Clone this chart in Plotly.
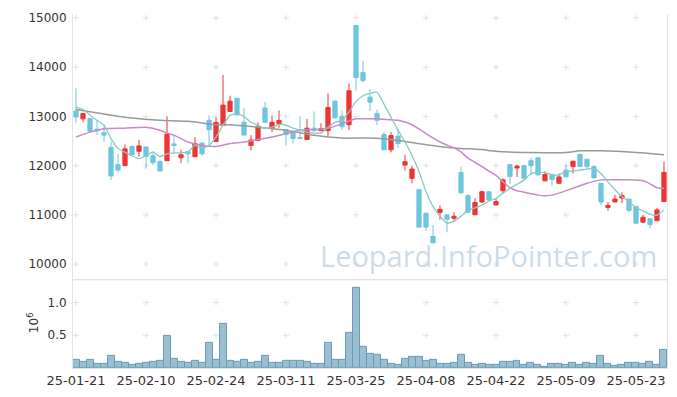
import plotly.graph_objects as go

dates = ["25-01-21","25-01-22","25-01-23","25-01-24","25-01-31","25-02-03","25-02-04","25-02-05","25-02-06","25-02-07",
         "25-02-10","25-02-11","25-02-12","25-02-13","25-02-14","25-02-17","25-02-18","25-02-19","25-02-20","25-02-21",
         "25-02-24","25-02-25","25-02-26","25-02-27","25-02-28","25-03-04","25-03-05","25-03-06","25-03-07","25-03-10",
         "25-03-11","25-03-12","25-03-13","25-03-14","25-03-17","25-03-18","25-03-19","25-03-20","25-03-21","25-03-24",
         "25-03-25","25-03-26","25-03-27","25-03-28","25-03-31","25-04-01","25-04-02","25-04-03","25-04-04","25-04-07",
         "25-04-08","25-04-09","25-04-10","25-04-11","25-04-14","25-04-15","25-04-16","25-04-17","25-04-18","25-04-21",
         "25-04-22","25-04-23","25-04-24","25-04-25","25-04-28","25-04-29","25-04-30","25-05-02","25-05-07","25-05-08",
         "25-05-09","25-05-12","25-05-13","25-05-14","25-05-15","25-05-16","25-05-19","25-05-20","25-05-21","25-05-22",
         "25-05-23","25-05-26","25-05-27","25-05-28","25-05-29"]

open_ = [13110,12950,12960,12740,12670,12370,12020,12000,12390,12290,
         12380,12200,12080,12100,12440,12160,12280,12180,12460,12920,
         12490,12820,13100,13370,12880,12410,12510,13170,12760,12850,
         12730,12670,12570,12530,12760,12710,12710,13310,13000,12830,
         14850,13890,13390,13060,12630,12320,12600,12010,11740,11510,
         11030,10560,11050,11000,10930,11860,11390,11000,11260,11470,
         11200,11490,12020,11950,12000,12100,12160,11690,11820,11640,
         11910,11980,12230,12130,11980,11640,11150,11260,11340,11320,
         11170,10850,10920,10880,11270]
high = [13570,13070,12960,12910,12830,12490,12240,12430,12410,12520,
        12380,12290,12110,13000,12600,12320,12290,12580,12460,13020,
        12980,13840,13420,13370,13170,12620,12880,13290,13020,13120,
        12740,12720,13000,12950,13100,12860,13470,13330,13120,13670,
        14850,14130,13550,13140,12680,12680,12730,12220,12000,11510,
        11030,10790,11190,11000,11050,11980,11420,11340,11490,11470,
        11340,11740,12020,12020,12000,12160,12160,11880,11820,11840,
        12020,12090,12230,12130,12010,11640,11260,11410,11460,11320,
        11170,11000,10920,11140,12080]
low = [12870,12880,12670,12620,12480,11710,11860,12000,12200,12180,
       11940,12010,11880,12100,12240,12050,12050,12180,12200,12410,
       12490,12820,13100,13020,12620,12310,12510,12880,12680,12770,
       12410,12450,12550,12530,12680,12710,12600,12970,12720,12720,
       13520,13690,13110,12820,12320,12270,12360,11900,11640,10750,
       10670,10430,10900,10650,10870,11420,11050,11000,11240,11270,
       11200,11430,11620,11770,11740,11810,11810,11690,11590,11640,
       11770,11840,11980,11940,11750,11200,11080,11260,11240,11050,
       10830,10830,10720,10880,11260]
close = [12990,13060,12700,12710,12620,11790,11910,12340,12220,12400,
         12190,12060,11890,12640,12410,12220,12240,12450,12240,12730,
         12880,13230,13310,13030,12620,12520,12800,12880,12880,12920,
         12630,12550,12550,12760,12720,12750,13180,12970,12790,13520,
         13790,13730,13290,12920,12320,12610,12450,12080,11930,10750,
         10750,10430,11110,10910,10970,11450,11050,11250,11470,11300,
         11270,11710,11780,11990,11740,12000,11810,11820,11720,11770,
         11770,12090,11980,11980,11750,11260,11190,11320,11390,11090,
         10830,10950,10800,11100,11860]

volume = [126000,95000,126000,65000,65000,186000,95000,80000,45000,65000,
          80000,95000,110000,497000,140000,95000,80000,110000,80000,380000,
          126000,668000,110000,95000,126000,80000,95000,186000,80000,80000,
          110000,110000,110000,95000,65000,65000,380000,126000,126000,530000,
          1220000,330000,210000,196000,126000,60000,45000,136000,166000,166000,
          110000,126000,60000,60000,75000,196000,75000,45000,60000,45000,
          45000,90000,90000,105000,45000,75000,45000,15000,60000,60000,
          45000,75000,45000,75000,60000,180000,60000,30000,45000,75000,
          75000,60000,90000,45000,270000]

ma_short = [13190,13140,13030,12920,12820,12550,12350,12270,12200,12140,
            12200,12280,12180,12240,12260,12260,12280,12410,12350,12410,
            12580,12820,13020,13050,13000,12880,12820,12750,12780,12840,
            12820,12760,12720,12680,12660,12660,12780,12880,12920,13090,
            13300,13420,13470,13490,13250,12980,12720,12480,12210,11880,
            11470,11170,10970,10830,10870,10970,11090,11140,11200,11280,
            11330,11440,11540,11620,11710,11840,11860,11860,11810,11810,
            11880,11890,11910,11930,11940,11840,11670,11510,11370,11270,
            11140,11080,11010,10990,11100]

ma_mid_idx = [0,2,4,7,10,12,13,14,16,18,20,22,24,26,28,30,32,34,36,38,40,42,44,46,48,50,52,54,55,56,
              58,59,60,61,62,63,64,65,66,67,68,69,71,73,75,77,79,81,82,83,84]
ma_mid = [12580,12680,12750,12760,12780,12720,12660,12620,12480,12410,12390,12450,12480,12530,12580,
          12650,12720,12730,12760,12850,12950,12950,12940,12920,12830,12650,12480,12360,12280,12150,
          11980,11890,11800,11670,11550,11490,11460,11430,11400,11385,11400,11440,11540,11640,11710,
          11710,11710,11690,11630,11550,11540]

ma_long_idx = [0,4,8,12,16,20,22,26,30,34,38,42,46,50,54,58,60,65,70,72,75,80,84]
ma_long = [13140,13050,12965,12920,12900,12830,12830,12780,12720,12615,12560,12560,12510,12425,12360,
           12325,12290,12265,12265,12300,12300,12265,12220]

price_ticks = [10000, 11000, 12000, 13000, 14000, 15000]
vol_ticks = [0.5, 1.0]
x_tick_idx = list(range(0, 85, 10))

RED = "#ee3434"
BLUE = "#6cc6dd"
FONT = "DejaVu Sans"
GRID = "#e0e0e0"

idx = list(range(len(dates)))

fig = go.Figure()

fig.add_trace(go.Candlestick(x=idx, open=open_, high=high, low=low, close=close,
                             increasing=dict(line=dict(color=RED, width=1), fillcolor=RED),
                             decreasing=dict(line=dict(color=BLUE, width=1), fillcolor=BLUE),
                             whiskerwidth=0, showlegend=False, xaxis="x", yaxis="y"))

fig.add_trace(go.Scatter(x=ma_long_idx, y=ma_long, mode="lines",
                         line=dict(color="#999999", width=1.5, shape="spline", smoothing=0.8),
                         showlegend=False, xaxis="x", yaxis="y"))
fig.add_trace(go.Scatter(x=ma_mid_idx, y=ma_mid, mode="lines",
                         line=dict(color="#c98ac6", width=1.5, shape="spline", smoothing=0.6),
                         showlegend=False, xaxis="x", yaxis="y"))
fig.add_trace(go.Scatter(x=idx, y=ma_short, mode="lines",
                         line=dict(color="#86cbc3", width=1.3, shape="spline", smoothing=0.5),
                         showlegend=False, xaxis="x", yaxis="y"))

fig.add_trace(go.Bar(x=idx, y=[v / 1e6 for v in volume], xaxis="x", yaxis="y2",
                     marker=dict(color="rgba(120,170,195,0.75)", line=dict(color="#6a9bb2", width=1)),
                     showlegend=False))

# small grid crosses at tick intersections, drawn below the data
shapes = []
for yref, ticks in (("y", price_ticks), ("y2", vol_ticks)):
    for i in x_tick_idx:
        for v in ticks:
            shapes.append(dict(type="line", layer="below", xref="x", yref=yref,
                               xsizemode="pixel", xanchor=i, x0=-3, x1=3, y0=v, y1=v,
                               line=dict(color=GRID, width=1)))
            shapes.append(dict(type="line", layer="below", xref="x", yref=yref,
                               ysizemode="pixel", yanchor=v, y0=-3, y1=3, x0=i, x1=i,
                               line=dict(color=GRID, width=1)))
shapes.append(dict(type="line", xref="paper", yref="paper", x0=0, x1=1, y0=0.249, y1=0.249,
                   line=dict(color="#e2e2e2", width=1)))

axis_common = dict(showline=True, linecolor="#e2e2e2", linewidth=1, mirror=True,
                   showgrid=False, zeroline=False, ticks="")

fig.update_layout(
    width=677, height=397,
    margin=dict(l=65, r=18, t=3, b=37),
    paper_bgcolor="white", plot_bgcolor="white",
    boxgap=0.14,
    bargap=0.0,
    showlegend=False,
    shapes=shapes,
    xaxis=dict(range=[-0.43, 84.43], anchor="y2",
               tickmode="array", tickvals=x_tick_idx,
               ticktext=[dates[i] for i in x_tick_idx],
               tickfont=dict(family=FONT, size=13, color="#333333"),
               rangeslider=dict(visible=False), **axis_common),
    yaxis=dict(domain=[0.249, 1], range=[9678, 15081], tickvals=price_ticks,
               ticktext=[str(v) for v in price_ticks], ticklabelstandoff=3,
               tickfont=dict(family=FONT, size=12, color="#333333"), **axis_common),
    yaxis2=dict(domain=[0, 0.249], range=[0, 1.347], tickvals=vol_ticks,
                ticktext=["0.5", "1.0"], ticklabelstandoff=3,
                tickfont=dict(family=FONT, size=12, color="#333333"), **axis_common),
    annotations=[
        dict(text="Leopard.InfoPointer.com", xref="paper", yref="paper", x=0.699, y=0.319,
             xanchor="center", yanchor="middle",
             showarrow=False, font=dict(family="Open Sans", size=29, color="rgba(175,200,218,0.65)")),
        dict(text="10<sup>6</sup>", xref="paper", yref="paper", x=-0.066, y=0.129,
             xanchor="center", yanchor="middle",
             showarrow=False, textangle=-90, font=dict(family=FONT, size=12, color="#333333")),
    ],
)

fig.write_html("out.html")
